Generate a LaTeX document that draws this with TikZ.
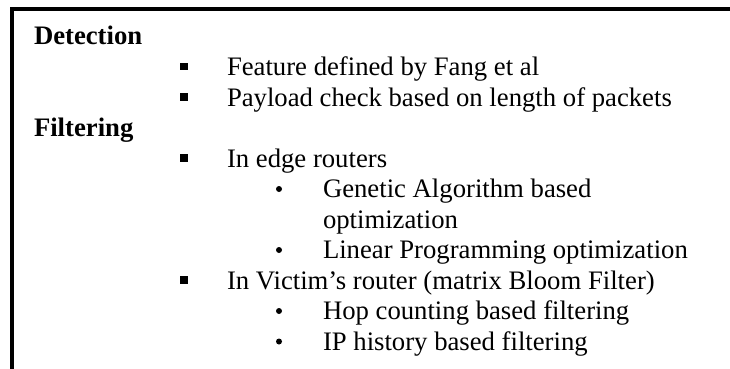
\documentclass[tikz,border=0pt]{standalone}
\usepackage{fontspec}
\setmainfont{Liberation Serif}
\begin{document}
\begin{tikzpicture}[x=1pt,y=-1pt,
  txt/.style={anchor=base west, inner sep=0pt, outer sep=0pt, font=\fontsize{26.7}{30.5}\selectfont},
  head/.style={txt, font=\fontsize{26.7}{30.5}\selectfont\bfseries},
  sqbullet/.style={fill=black, draw=none, minimum width=7.5pt, minimum height=7.5pt, inner sep=0pt, rectangle},
  dotbullet/.style={fill=black, draw=none, circle, minimum size=6pt, inner sep=0pt},
  frame/.style={line width=4pt, draw=black, line join=miter}]
\useasboundingbox (0,0) rectangle (730,369);
\clip (0,0) rectangle (730,369);
\fill[white] (0,0) rectangle (730,369);
% frame (top and left edges)
\coordinate (fb) at (12,380);
\coordinate (fc) at (12,9);
\coordinate (fr) at (740,9);
\draw[frame] (fb) -- (fc) -- (fr);
% headings
\node[head] (det) at (34,45) {Detection};
\node[head] (fil) at (34,136.5) {Filtering};
% level 1 items
\node[sqbullet] (b1) at (184,66.5) {};
\node[txt] (t1) at (227,75.5) {Feature defined by Fang et al};
\node[sqbullet] (b2) at (184,97) {};
\node[txt] (t2) at (227,106) {Payload check based on length of packets};
\node[sqbullet] (b3) at (184,158) {};
\node[txt] (t3) at (227,167) {In edge routers};
\node[dotbullet] (d1) at (279,189) {};
\node[txt] (t4) at (323,197.5) {Genetic Algorithm based};
\node[txt] (t4b) at (323,228) {optimization};
\node[dotbullet] (d2) at (279,250) {};
\node[txt] (t5) at (323,258.5) {Linear Programming optimization};
\node[sqbullet] (b4) at (184,280) {};
\node[txt] (t6) at (227,289) {In Victim’s router (matrix Bloom Filter)};
\node[dotbullet] (d3) at (279,311) {};
\node[txt] (t7) at (323,319.5) {Hop counting based filtering};
\node[dotbullet] (d4) at (279,341.5) {};
\node[txt] (t8) at (323,350) {IP history based filtering};
\end{tikzpicture}
\end{document}
